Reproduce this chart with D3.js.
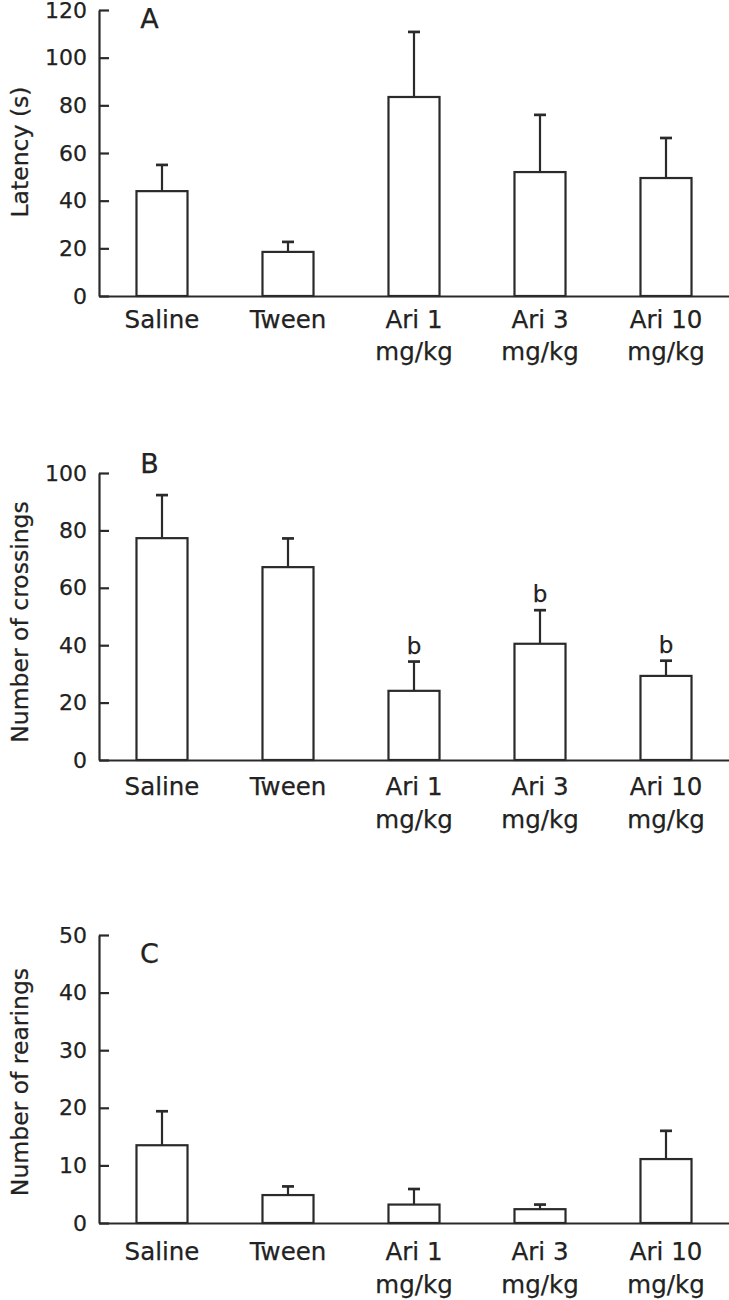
<!DOCTYPE html>
<html>
<head>
<meta charset="utf-8">
<script src="https://cdn.jsdelivr.net/npm/d3@7"></script>
<style>
  html, body { margin: 0; padding: 0; background: #fff; }
  svg { display: block; }
  text { font-family: "DejaVu Sans", sans-serif; fill: #222; stroke: #222; stroke-width: 0.25px; }
</style>
</head>
<body>
<svg id="chart" width="729" height="1300"></svg>
<script>
// ---- data ----
const categories = [["Saline"], ["Tween"], ["Ari 1", "mg/kg"], ["Ari 3", "mg/kg"], ["Ari 10", "mg/kg"]];

const latencyMean = [44, 18.5, 83.5, 52, 49.5];
const latencyErr  = [11, 4.2, 27.3, 24, 16.8];
const latencyTicks = [0, 20, 40, 60, 80, 100, 120];

const crossingsMean = [77.3, 67.2, 24.1, 40.5, 29.3];
const crossingsErr  = [15, 10, 10.2, 11.7, 5.3];
const crossingsSig  = ["", "", "b", "b", "b"];
const crossingsTicks = [0, 20, 40, 60, 80, 100];

const rearingsMean = [13.5, 4.85, 3.2, 2.4, 11.1];
const rearingsErr  = [5.9, 1.5, 2.7, 0.8, 4.9];
const rearingsTicks = [0, 10, 20, 30, 40, 50];

const panels = [
  { letter: "A", title: "Latency (s)", mean: latencyMean, err: latencyErr, sig: null, ticks: latencyTicks,
    top: 10, bottom: 296, lab1: 32, lab2: 64, titleY: 152, letterY: 28 },
  { letter: "B", title: "Number of crossings", mean: crossingsMean, err: crossingsErr, sig: crossingsSig, ticks: crossingsTicks,
    top: 473, bottom: 760, lab1: 35, lab2: 68, titleY: 622, letterY: 473 },
  { letter: "C", title: "Number of rearings", mean: rearingsMean, err: rearingsErr, sig: null, ticks: rearingsTicks,
    top: 935, bottom: 1223, lab1: 37, lab2: 70, titleY: 1082, letterY: 963 }
];

// ---- drawing ----
const svg = d3.select("#chart");
const stroke = "#2a2a2a";
const sw = 2.2;
const axisX = 99, rightX = 729;

const x = d3.scaleBand()
  .domain(categories.map((d, i) => i))
  .range([axisX, rightX])
  .paddingInner(0.595)
  .paddingOuter(0.2975);

panels.forEach(p => {
  const maxV = p.ticks[p.ticks.length - 1];
  const y = d3.scaleLinear().domain([0, maxV]).range([p.bottom, p.top]);
  const g = svg.append("g");

  // bars
  g.selectAll("rect.bar").data(p.mean).join("rect")
    .attr("class", "bar")
    .attr("x", (d, i) => x(i))
    .attr("width", x.bandwidth())
    .attr("y", d => y(d))
    .attr("height", d => y(0) - y(d))
    .attr("fill", "#fff")
    .attr("stroke", stroke)
    .attr("stroke-width", sw);

  // error bars
  const capW = 12;
  p.mean.forEach((m, i) => {
    const cx = x(i) + x.bandwidth() / 2;
    g.append("line")
      .attr("x1", cx).attr("x2", cx)
      .attr("y1", y(m)).attr("y2", y(m + p.err[i]))
      .attr("stroke", stroke).attr("stroke-width", sw);
    g.append("line")
      .attr("x1", cx - capW / 2).attr("x2", cx + capW / 2)
      .attr("y1", y(m + p.err[i])).attr("y2", y(m + p.err[i]))
      .attr("stroke", stroke).attr("stroke-width", sw + 0.5);
    if (p.sig && p.sig[i]) {
      g.append("text")
        .attr("x", cx).attr("y", y(m + p.err[i]) - 8)
        .attr("text-anchor", "middle")
        .attr("font-size", 23)
        .text(p.sig[i]);
    }
  });

  // y axis
  const yAxis = d3.axisLeft(y).tickValues(p.ticks).tickSizeInner(-10).tickSizeOuter(0).tickPadding(12)
    .tickFormat(d3.format("d"));
  const ya = g.append("g").attr("transform", `translate(${axisX},0)`).call(yAxis);
  ya.select(".domain").attr("stroke", stroke).attr("stroke-width", sw);
  ya.selectAll(".tick line").attr("stroke", stroke).attr("stroke-width", sw);
  ya.selectAll(".tick text").attr("font-size", 22).attr("font-family", "DejaVu Sans").attr("fill", "#222");

  // x axis
  const xAxis = d3.axisBottom(x).tickSize(0).tickSizeOuter(0).tickFormat("");
  const xa = g.append("g").attr("transform", `translate(0,${y(0)})`).call(xAxis);
  xa.select(".domain").attr("stroke", stroke).attr("stroke-width", sw);
  xa.selectAll(".tick").each(function(d) {
    const t = d3.select(this);
    t.select("text").remove();
    categories[d].forEach((line, j) => {
      t.append("text")
        .attr("x", 0)
        .attr("y", j === 0 ? p.lab1 : p.lab2)
        .attr("text-anchor", "middle")
        .attr("font-size", 24.5)
        .attr("font-family", "DejaVu Sans")
        .attr("fill", "#222")
        .text(line);
    });
  });

  // y title
  g.append("text")
    .attr("transform", `translate(28,${p.titleY}) rotate(-90)`)
    .attr("text-anchor", "middle")
    .attr("font-size", 23.5)
    .text(p.title);

  // panel letter
  g.append("text")
    .attr("x", 149.5)
    .attr("y", p.letterY)
    .attr("text-anchor", "middle")
    .attr("font-size", 27)
    .text(p.letter);
});
</script>
</body>
</html>
